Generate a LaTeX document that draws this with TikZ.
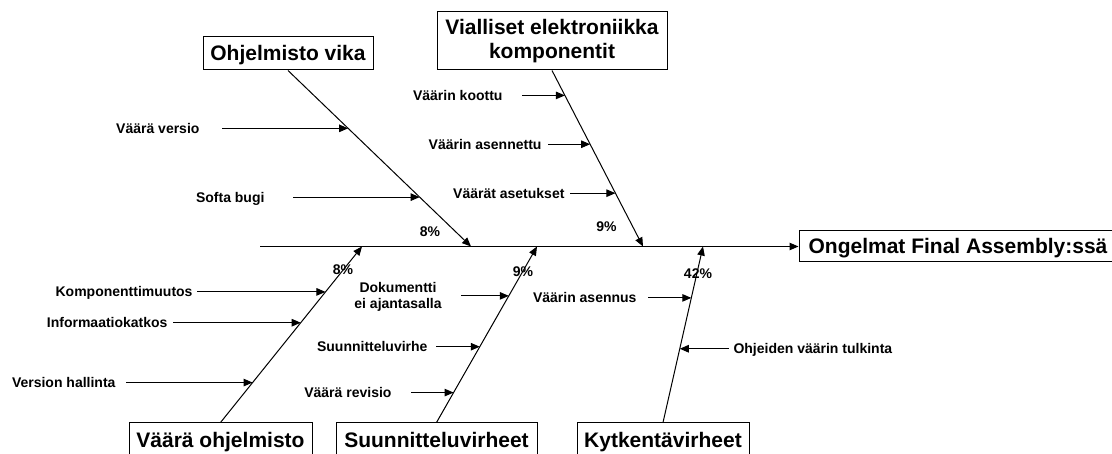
\documentclass[tikz,border=0pt]{standalone}
\usepackage{fontspec}
\setmainfont{Liberation Sans}
\usetikzlibrary{arrows.meta,calc}
\begin{document}
\begin{tikzpicture}[x=1pt,y=-1pt,
  line width=1pt,
  arr/.style={-{Triangle[length=9pt,width=7.5pt]}},
  causebox/.style={draw, line width=1pt, inner sep=0pt,
    font=\fontsize{21}{24}\selectfont\bfseries, text height=15pt, text depth=0pt},
  lbl/.style={inner sep=0pt, font=\fontsize{14}{16.5}\selectfont\bfseries,
    text height=10pt, text depth=0pt},
]
\clip (0,0) rectangle (1112,454);

% category boxes and the effect box
\node[causebox, minimum width=170pt, minimum height=33pt] (ohj) at (288,53.5) {Ohjelmisto vika};
\node[causebox, align=center, minimum width=230pt, minimum height=58pt,
      text height=44pt, text depth=8pt] (vik) at (552,41) {Vialliset elektroniikka\\komponentit};
\node[causebox, minimum width=318pt, minimum height=31pt] (main) at (958,246.5) {Ongelmat Final Assembly:ssä};
\node[causebox, minimum width=183pt, minimum height=34pt] (vo) at (220.5,440) {Väärä ohjelmisto};
\node[causebox, minimum width=201pt, minimum height=34pt] (suu) at (436.5,440) {Suunnitteluvirheet};
\node[causebox, minimum width=172pt, minimum height=34pt] (kyt) at (663,440) {Kytkentävirheet};

% spine and the points where the bones meet it
\coordinate (spine) at (260,246.5);
\coordinate (j1) at (471,246.5);
\coordinate (j2) at (643,246.5);
\coordinate (j3) at (362,246.5);
\coordinate (j4) at (537,246.5);
\coordinate (j5) at (703,246.5);
\draw[arr] (spine) -- (main.west);

% main bones
\draw[arr] (ohj.south) -- (j1);
\draw[arr] (vik.south) -- (j2);
\draw[arr] (vo.north) -- (j3);
\draw[arr] (suu.north) -- (j4);
\draw[arr] (kyt.north) -- (j5);

% points on the bones hit by the sub-causes
\coordinate (c1) at ($(ohj.south)!0.3286!(j1)$);
\coordinate (c2) at ($(ohj.south)!0.7195!(j1)$);
\coordinate (c3) at ($(vik.south)!0.1416!(j2)$);
\coordinate (c4) at ($(vik.south)!0.419!(j2)$);
\coordinate (c5) at ($(vik.south)!0.697!(j2)$);
\coordinate (c6) at ($(vo.north)!0.742!(j3)$);
\coordinate (c7) at ($(vo.north)!0.567!(j3)$);
\coordinate (c8) at ($(vo.north)!0.227!(j3)$);
\coordinate (c9) at ($(suu.north)!0.7195!(j4)$);
\coordinate (c10) at ($(suu.north)!0.4306!(j4)$);
\coordinate (c11) at ($(suu.north)!0.17!(j4)$);
\coordinate (c12) at ($(kyt.north)!0.708!(j5)$);
\coordinate (c13) at ($(kyt.north)!0.419!(j5)$);

% sub-cause labels
\node[lbl, anchor=east] (l1) at (c1 -| 200,0) {Väärä versio};
\node[lbl, anchor=east] (l2) at (c2 -| 265,0) {Softa bugi};
\node[lbl, anchor=east] (l3) at (c3 -| 503,0) {Väärin koottu};
\node[lbl, anchor=east] (l4) at (c4 -| 542,0) {Väärin asennettu};
\node[lbl, anchor=east] (l5) at (c5 -| 565,0) {Väärät asetukset};
\node[lbl, anchor=east] (l6) at (c6 -| 193,0) {Komponenttimuutos};
\node[lbl, anchor=east] (l7) at (c7 -| 168,0) {Informaatiokatkos};
\node[lbl, anchor=east] (l8) at (c8 -| 116,0) {Version hallinta};
\node[lbl, align=center, text height=26.5pt, text depth=0pt] (l9) at (398,295.5) {Dokumentti\\ei ajantasalla};
\node[lbl, anchor=east] (l10) at (c10 -| 428,0) {Suunnitteluvirhe};
\node[lbl, anchor=east] (l11) at (c11 -| 392,0) {Väärä revisio};
\node[lbl, anchor=east] (l12) at (c12 -| 637,0) {Väärin asennus};
\node[lbl, anchor=west] (l13) at (c13 -| 733,0) {Ohjeiden väärin tulkinta};

% sub-cause arrows
\draw[arr] ([xshift=22pt]l1.east) -- (c1);
\draw[arr] ([xshift=28pt]l2.east) -- (c2);
\draw[arr] ([xshift=19pt]l3.east) -- (c3);
\draw[arr] ([xshift=6pt]l4.east) -- (c4);
\draw[arr] ([xshift=5pt]l5.east) -- (c5);
\draw[arr] ([xshift=4pt]l6.east) -- (c6);
\draw[arr] ([xshift=5pt]l7.east) -- (c7);
\draw[arr] ([xshift=10pt]l8.east) -- (c8);
\draw[arr] ([xshift=19pt]l9.east |- c9) -- (c9);
\draw[arr] ([xshift=8pt]l10.east) -- (c10);
\draw[arr] ([xshift=19pt]l11.east) -- (c11);
\draw[arr] ([xshift=11pt]l12.east) -- (c12);
\draw[arr] ([xshift=-4pt]l13.west) -- (c13);

% shares
\node[lbl] (p1) at (430,232) {8\%};
\node[lbl] (p2) at (606.5,227) {9\%};
\node[lbl] (p3) at (343,270) {8\%};
\node[lbl] (p4) at (523,272) {9\%};
\node[lbl] (p5) at (698,273.5) {42\%};
\end{tikzpicture}
\end{document}
